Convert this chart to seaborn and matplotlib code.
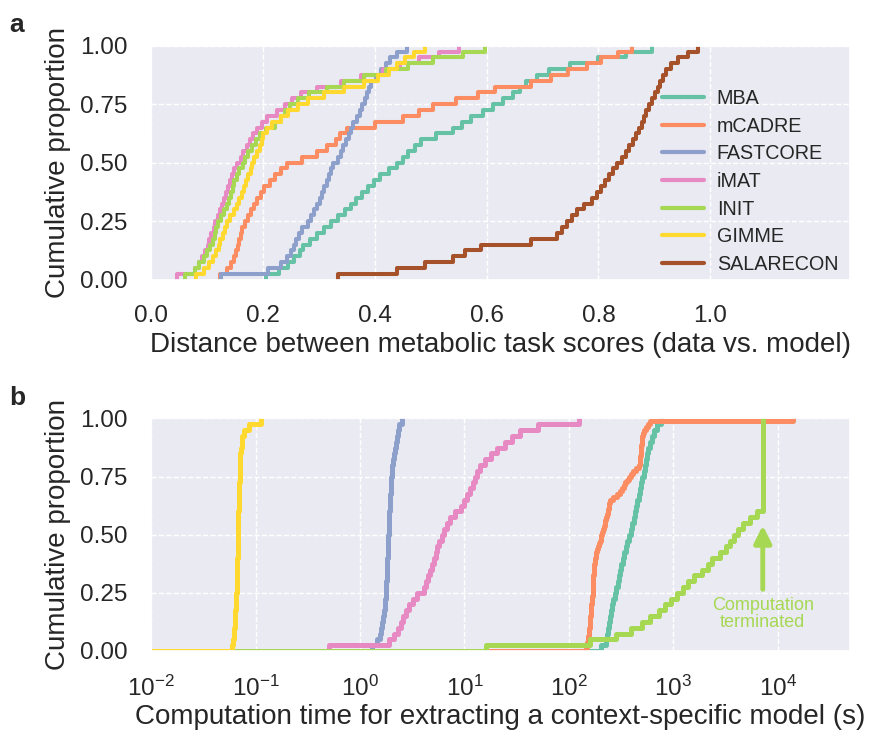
import matplotlib
matplotlib.use("Agg")
import matplotlib.pyplot as plt
import numpy as np
import pandas as pd
import seaborn as sns

# ---------------- data ----------------
methods = ["MBA", "mCADRE", "FASTCORE", "iMAT", "INIT", "GIMME", "SALARECON"]
method_colors = ["#66c2a5", "#fc8d62", "#8da0cb", "#e78ac3", "#a6d854", "#ffd92f", "#a5522a"]

# panel a: distance between metabolic task scores (data vs. model)
dist_MBA = [0.205, 0.228, 0.245, 0.256, 0.266, 0.272, 0.284, 0.297, 0.310, 0.321,
            0.335, 0.347, 0.357, 0.367, 0.377, 0.388, 0.398, 0.410, 0.425, 0.440,
            0.450, 0.460, 0.472, 0.483, 0.510, 0.540, 0.556, 0.572, 0.594, 0.612,
            0.630, 0.648, 0.660, 0.670, 0.690, 0.712, 0.750, 0.800, 0.850, 0.895]
dist_mCADRE = [0.124, 0.136, 0.143, 0.148, 0.152, 0.155, 0.158, 0.160, 0.163, 0.168,
               0.173, 0.178, 0.185, 0.190, 0.196, 0.202, 0.212, 0.222, 0.232, 0.243,
               0.270, 0.296, 0.315, 0.330, 0.338, 0.350, 0.400, 0.450, 0.480, 0.505,
               0.545, 0.585, 0.615, 0.680, 0.715, 0.745, 0.780, 0.805, 0.835, 0.860]
dist_FASTCORE = [0.125, 0.210, 0.232, 0.243, 0.250, 0.256, 0.260, 0.265, 0.270, 0.280,
                 0.286, 0.292, 0.297, 0.302, 0.306, 0.310, 0.314, 0.318, 0.321, 0.326,
                 0.334, 0.339, 0.344, 0.349, 0.354, 0.358, 0.362, 0.368, 0.374, 0.378,
                 0.382, 0.386, 0.390, 0.394, 0.402, 0.411, 0.420, 0.428, 0.440, 0.457]
dist_iMAT = [0.046, 0.078, 0.086, 0.092, 0.097, 0.101, 0.104, 0.108, 0.112, 0.115,
             0.119, 0.123, 0.127, 0.130, 0.134, 0.138, 0.141, 0.145, 0.149, 0.154,
             0.160, 0.165, 0.171, 0.177, 0.183, 0.190, 0.198, 0.207, 0.225, 0.240,
             0.252, 0.268, 0.296, 0.340, 0.375, 0.415, 0.445, 0.480, 0.515, 0.550]
dist_INIT = [0.061, 0.078, 0.086, 0.094, 0.100, 0.106, 0.110, 0.114, 0.117, 0.120,
             0.125, 0.130, 0.136, 0.140, 0.143, 0.146, 0.148, 0.153, 0.158, 0.164,
             0.168, 0.173, 0.181, 0.188, 0.195, 0.206, 0.222, 0.232, 0.240, 0.249,
             0.262, 0.282, 0.315, 0.345, 0.380, 0.420, 0.460, 0.505, 0.558, 0.597]
dist_GIMME = [0.080, 0.094, 0.104, 0.110, 0.117, 0.121, 0.124, 0.128, 0.132, 0.136,
              0.142, 0.148, 0.154, 0.158, 0.162, 0.166, 0.170, 0.174, 0.178, 0.181,
              0.185, 0.190, 0.194, 0.198, 0.201, 0.208, 0.216, 0.232, 0.245, 0.262,
              0.280, 0.310, 0.345, 0.380, 0.405, 0.425, 0.440, 0.455, 0.470, 0.490]
dist_SALARECON = [0.335, 0.440, 0.490, 0.540, 0.562, 0.590, 0.680, 0.726, 0.735, 0.744,
                  0.752, 0.761, 0.775, 0.788, 0.797, 0.804, 0.811, 0.819, 0.826, 0.833,
                  0.842, 0.849, 0.855, 0.861, 0.867, 0.873, 0.878, 0.882, 0.886, 0.890,
                  0.895, 0.902, 0.906, 0.911, 0.916, 0.921, 0.930, 0.943, 0.960, 0.979]

# panel b: computation time (s)
time_MBA = [204, 224, 232, 237, 243, 248, 254, 260, 266, 275,
            285, 295, 302, 309, 316, 331, 339, 351, 363, 376,
            389, 403, 417, 432, 442, 452, 468, 479, 490, 501,
            519, 537, 550, 562, 575, 596, 617, 646, 692, 759]
time_mCADRE = [146, 148, 150, 151, 153, 155, 156, 157, 158, 158,
               159, 160, 161, 162, 163, 164, 165, 166, 167, 168,
               168, 169, 170, 170, 171, 171, 172, 172, 173, 174,
               176, 178, 180, 182, 186, 191, 195, 200, 202, 204,
               208, 211, 215, 219, 222, 226, 230, 234, 237, 240,
               243, 245, 265, 288, 305, 324, 335, 347, 360, 372,
               390, 407, 440, 473, 476, 479, 481, 484, 487, 490,
               492, 495, 498, 501, 512, 525, 550, 575, 603, 13800]
time_FASTCORE = [1.30, 1.47, 1.55, 1.60, 1.63, 1.66, 1.69, 1.72, 1.74, 1.76,
                 1.78, 1.79, 1.80, 1.81, 1.82, 1.83, 1.84, 1.85, 1.86, 1.87,
                 1.88, 1.89, 1.90, 1.91, 1.92, 1.94, 1.95, 1.97, 1.98, 2.00,
                 2.02, 2.04, 2.07, 2.10, 2.14, 2.19, 2.24, 2.29, 2.38, 2.54]
time_iMAT = [0.50, 1.90, 2.11, 2.29, 2.45, 2.60, 2.75, 2.95, 3.24, 3.55,
             4.07, 4.27, 4.47, 4.68, 4.90, 5.13, 5.37, 5.50, 5.75, 6.03,
             6.31, 6.76, 7.24, 8.13, 9.33, 10.0, 10.6, 11.2, 12.0, 12.6,
             13.2, 14.1, 15.8, 17.8, 20.4, 24.5, 28.2, 33.9, 50.1, 126]
time_INIT = [16, 158, 282, 389, 501, 603, 724, 832, 955, 1072,
             1230, 1380, 1585, 1862, 2138, 2344, 2818, 3162, 3467, 3802,
             4169, 4677, 5370, 6310, 7160, 7160, 7160, 7160, 7160, 7160,
             7160, 7160, 7160, 7160, 7160, 7160, 7160, 7160, 7160, 7160]
time_GIMME = [0.0600, 0.0610, 0.0618, 0.0625, 0.0630, 0.0636, 0.0641, 0.0646, 0.0650, 0.0654,
              0.0658, 0.0661, 0.0664, 0.0667, 0.0669, 0.0671, 0.0673, 0.0675, 0.0677, 0.0679,
              0.0681, 0.0683, 0.0685, 0.0687, 0.0690, 0.0693, 0.0696, 0.0699, 0.0702, 0.0705,
              0.0708, 0.0711, 0.0714, 0.0718, 0.0725, 0.0735, 0.0750, 0.0780, 0.0860, 0.1120]
terminated_time = 7160

y_ticks = [0.0, 0.25, 0.5, 0.75, 1.0]
y_ticklabels = ["0.00", "0.25", "0.50", "0.75", "1.00"]
a_xticks = [0.0, 0.2, 0.4, 0.6, 0.8, 1.0]
a_xticklabels = ["0.0", "0.2", "0.4", "0.6", "0.8", "1.0"]
b_xlim = (1e-2, 4.9e4)

dist_data = {"MBA": dist_MBA, "mCADRE": dist_mCADRE, "FASTCORE": dist_FASTCORE,
             "iMAT": dist_iMAT, "INIT": dist_INIT, "GIMME": dist_GIMME,
             "SALARECON": dist_SALARECON}
time_data = {"MBA": time_MBA, "mCADRE": time_mCADRE, "FASTCORE": time_FASTCORE,
             "iMAT": time_iMAT, "INIT": time_INIT, "GIMME": time_GIMME}
palette = dict(zip(methods, method_colors))

# ---------------- style ----------------
sns.set_theme(style="darkgrid")
plt.rcParams["font.family"] = ["Liberation Sans", "DejaVu Sans"]
plt.rcParams["grid.linestyle"] = "--"
plt.rcParams["grid.linewidth"] = 1.0
plt.rcParams["axes.facecolor"] = "#EAEAF2"

fig = plt.figure(figsize=(8.73, 7.31), dpi=100)
ax1 = fig.add_axes([0.173, 0.6175, 0.8007, 0.3200])
ax2 = fig.add_axes([0.173, 0.1095, 0.8007, 0.3180])

TICK = 17.5
LAB = 20

# ---------------- panel a ----------------
for m in methods:
    df = pd.DataFrame({"value": dist_data[m]})
    sns.ecdfplot(data=df, x="value", ax=ax1, color=palette[m], lw=2.9, label=m)

# in panel a each ECDF starts at its own smallest value (no run-in from the left)
for ln in ax1.lines:
    xd = np.asarray(ln.get_xdata(), dtype=float).copy()
    yd = np.asarray(ln.get_ydata(), dtype=float)
    bad = ~np.isfinite(xd)
    if bad.any():
        xd[bad] = np.nanmin(xd[~bad])
    ln.set_data(xd, yd)

ax1.set_xlim(0, 1.25)
ax1.set_ylim(0, 1)
ax1.set_xticks(a_xticks)
ax1.set_xticklabels(a_xticklabels)
ax1.set_yticks(y_ticks)
ax1.set_yticklabels(y_ticklabels)
ax1.set_xlabel("Distance between metabolic task scores (data vs. model)", fontsize=LAB, labelpad=4)
ax1.set_ylabel("Cumulative proportion", fontsize=LAB, labelpad=6)
ax1.tick_params(axis="both", labelsize=TICK)
ax1.tick_params(axis="x", pad=12)
ax1.tick_params(axis="y", pad=11)
leg = ax1.legend(loc="center right", bbox_to_anchor=(1.0, 0.42), frameon=False,
                 fontsize=14.2, handlelength=2.1, handletextpad=0.65, labelspacing=0.44,
                 borderaxespad=0.2)
for h in leg.get_lines():
    h.set_linewidth(3.0)

# ---------------- panel b ----------------
for m in methods:
    if m not in time_data:
        continue
    df = pd.DataFrame({"value": time_data[m]})
    sns.ecdfplot(data=df, x="value", ax=ax2, color=palette[m], lw=3.6, log_scale=True)

ax2.set_xlim(*b_xlim)
# let each ECDF's leading zero-level run start at the left edge of the axis
for ln in ax2.lines:
    xd = np.asarray(ln.get_xdata(), dtype=float).copy()
    yd = np.asarray(ln.get_ydata(), dtype=float)
    bad = ~np.isfinite(xd) | (xd <= 0)
    xd[bad] = b_xlim[0]
    ln.set_data(xd, yd)

ax2.set_ylim(0, 1)
ax2.set_yticks(y_ticks)
ax2.set_yticklabels(y_ticklabels)
ax2.xaxis.set_major_locator(matplotlib.ticker.LogLocator(base=10, numticks=10))
ax2.xaxis.set_minor_locator(matplotlib.ticker.NullLocator())
ax2.set_xlabel("Computation time for extracting a context-specific model (s)", fontsize=LAB, labelpad=2)
ax2.set_ylabel("Cumulative proportion", fontsize=LAB, labelpad=6)
ax2.tick_params(axis="both", labelsize=TICK)
ax2.tick_params(axis="x", pad=12)
ax2.tick_params(axis="y", pad=11)

ax2.annotate("Computation\nterminated", xy=(terminated_time, 0.54), xytext=(terminated_time, 0.16),
             ha="center", va="center", color=palette["INIT"], fontsize=13, linespacing=1.0,
             arrowprops=dict(arrowstyle="-|>", color=palette["INIT"], lw=3.5,
                             mutation_scale=26, shrinkA=3, shrinkB=0))

fig.text(0.011, 0.966, "a", fontsize=19, fontweight="bold", va="center", ha="left")
fig.text(0.011, 0.455, "b", fontsize=19, fontweight="bold", va="center", ha="left")

fig.savefig("out.png", dpi=100)
